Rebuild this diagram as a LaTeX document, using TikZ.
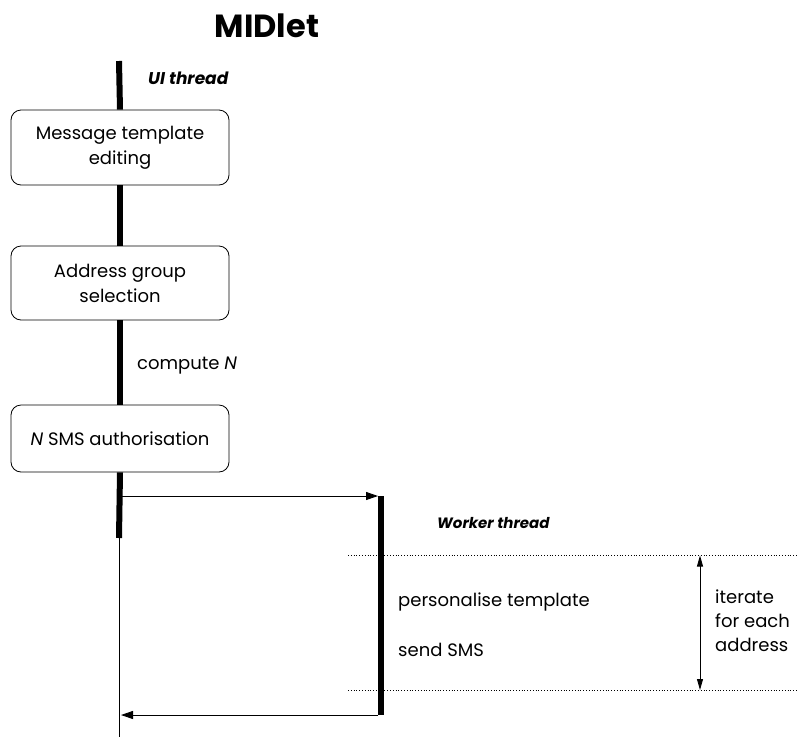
\documentclass[tikz,border=0pt]{standalone}
\usepackage{fontspec}
\setmainfont{Poppins}
\usetikzlibrary{arrows.meta}

\tikzset{
  thread/.style={line width=6pt},
  lifeline/.style={line width=0.9pt},
  stepbox/.style={draw, line width=0.8pt, rounded corners=10pt, fill=white,
    minimum width=218pt, align=center, inner sep=0pt,
    font=\fontsize{18}{25}\selectfont},
  lbl/.style={inner sep=0pt, font=\fontsize{18}{24}\selectfont},
  threadname/.style={inner sep=0pt, font=\fontsize{15}{18}\selectfont\bfseries\itshape},
  msg/.style={line width=0.9pt, -{Triangle[length=12pt,width=8pt]}},
  span/.style={line width=0.9pt, {Triangle[length=11pt,width=6pt]}-{Triangle[length=11pt,width=6pt]}},
  guide/.style={dotted, line width=0.8pt}
}

\begin{document}
\begin{tikzpicture}[x=1pt,y=-1pt]
\useasboundingbox (0,0) rectangle (798,737);

% title
\node[inner sep=0pt, font=\fontsize{32}{36}\selectfont\bfseries] (title) at (267,26) {MIDlet};

% UI thread steps
\node[stepbox, minimum height=75pt] (edit) at (120,147.5) {Message template\\editing};
\node[stepbox, minimum height=74pt] (select) at (120,283) {Address group\\selection};
\node[stepbox, minimum height=67pt] (auth) at (120,438.5) {\textit{N} SMS authorisation};

\coordinate (uiTop) at (119,61);
\coordinate (uiEnd) at (119,538);
\coordinate (uiBot) at (119,737);

\draw[thread] (uiTop) -- (edit.north);
\draw[thread] (edit.south) -- (select.north);
\draw[thread] (select.south) -- (auth.north);
\draw[thread] (auth.south) -- (uiEnd);
\draw[lifeline] (uiEnd) -- (uiBot);

\node[threadname, font=\fontsize{17}{20}\selectfont\bfseries\itshape, anchor=west] (uiname) at (148,78) {UI thread};
\node[lbl, anchor=west] (compute) at (137,366) {compute \textit{N}};

% worker thread
\coordinate (fork) at (122,496);
\coordinate (wTop) at (381,496);
\coordinate (wBot) at (381,715);
\coordinate (join) at (121,715);

\draw[thread] (wTop) -- (wBot);
\draw[msg] (fork) -- ([xshift=-3pt]wTop);
\draw[msg] ([xshift=-3pt]wBot) -- (join);

\node[threadname, anchor=west] (wname) at (437,523) {Worker thread};

% loop body
\coordinate (loopTopL) at (348,555.5);
\coordinate (loopTopR) at (798,555.5);
\coordinate (loopBotL) at (348,690);
\coordinate (loopBotR) at (798,690);
\draw[guide] (loopTopL) -- (loopTopR);
\draw[guide] (loopBotL) -- (loopBotR);

\node[lbl, anchor=west] (personal) at (398,602) {personalise template};
\node[lbl, anchor=west] (send) at (398,650) {send SMS};

\coordinate (spanTop) at (700,555.5);
\coordinate (spanBot) at (700,690);
\draw[span] (spanTop) -- (spanBot);

\node[lbl, anchor=north west, align=left] (iter) at (715,590) {iterate\\for each\\address};
\end{tikzpicture}
\end{document}
